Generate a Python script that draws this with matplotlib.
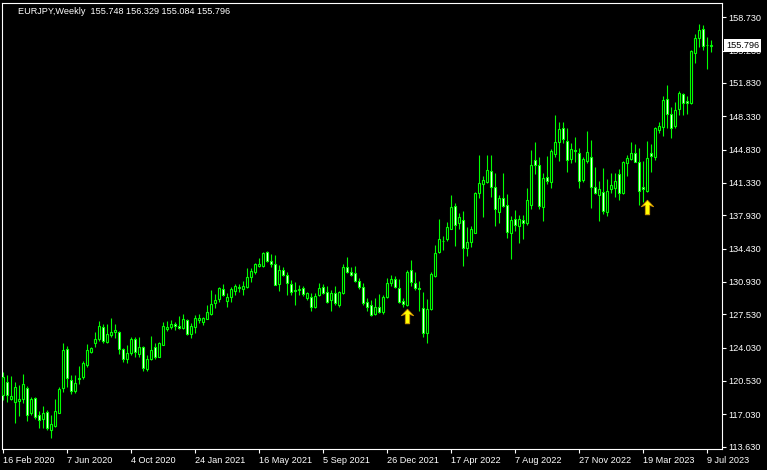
import matplotlib.pyplot as plt
from matplotlib.path import Path
import numpy as np

plt.rcParams['font.family'] = ['Liberation Sans', 'DejaVu Sans']

# EURJPY weekly candles (oldest first)
opens = [
    119.05, 120.42, 118.63, 118.28, 118.42, 118.60, 119.79, 117.20, 118.74, 116.95,
    116.50, 117.27, 115.35, 115.76, 117.20, 119.75, 123.85, 120.63, 119.51, 120.74,
    120.91, 122.17, 123.53, 124.55, 124.90, 126.16, 124.65, 125.35, 125.70, 125.63,
    123.85, 122.80, 123.43, 124.90, 123.32, 124.06, 121.76, 122.88, 124.07, 123.09,
    124.35, 126.03, 126.24, 126.52, 126.31, 126.14, 126.94, 125.43, 126.24, 126.94,
    126.77, 127.08, 127.57, 128.76, 129.11, 130.16, 128.97, 129.39, 130.02, 130.41,
    130.19, 130.44, 131.49, 132.01, 132.61, 132.61, 134.04, 133.17, 132.78, 130.68,
    132.19, 131.67, 130.72, 130.09, 130.12, 130.26, 129.21, 129.39, 128.27, 129.56,
    130.37, 129.84, 129.04, 129.74, 128.51, 129.74, 132.47, 132.01, 131.84, 131.03,
    130.37, 128.79, 128.51, 127.53, 128.27, 127.81, 129.39, 130.86, 131.24, 130.26,
    128.93, 128.51, 132.19, 130.86, 130.26, 128.16, 125.54, 128.06, 131.59, 134.11,
    135.27, 135.48, 136.53, 138.87, 137.09, 137.44, 134.46, 135.16, 136.11, 140.24,
    141.22, 141.46, 142.55, 140.87, 138.31, 139.75, 138.98, 136.11, 137.51, 136.84,
    137.44, 137.16, 139.01, 143.74, 143.21, 138.84, 141.92, 141.46, 144.40, 145.59,
    147.06, 145.70, 143.84, 144.79, 144.44, 141.64, 143.67, 144.02, 140.94, 140.07,
    140.35, 138.32, 140.70, 140.84, 142.24, 140.31, 143.46, 143.88, 144.44, 143.57,
    140.87, 140.52, 144.44, 144.02, 146.90, 147.25, 150.12, 148.61, 147.35, 149.07,
    150.68, 149.94, 149.70, 154.95, 156.52, 157.47, 155.79, 155.748]
highs = [
    121.50, 121.16, 121.05, 120.46, 120.11, 121.26, 120.00, 118.81, 118.88, 117.37,
    117.90, 117.48, 116.95, 118.63, 119.93, 124.55, 124.20, 121.16, 121.16, 122.10,
    122.62, 124.37, 124.13, 125.63, 126.82, 126.51, 126.51, 127.10, 126.51, 125.77,
    124.02, 124.30, 125.11, 125.18, 125.11, 124.20, 123.26, 125.26, 124.56, 124.67,
    126.73, 126.80, 126.94, 126.73, 127.36, 127.57, 127.08, 126.59, 127.46, 127.57,
    127.29, 128.48, 130.09, 129.67, 130.44, 130.68, 129.81, 130.44, 130.72, 130.72,
    131.00, 132.36, 132.43, 132.89, 133.41, 134.08, 134.18, 133.87, 133.76, 132.71,
    132.54, 131.95, 131.14, 130.96, 130.61, 130.51, 129.91, 129.81, 129.81, 130.86,
    130.68, 130.51, 130.09, 130.51, 130.02, 132.82, 133.52, 132.54, 132.61, 131.31,
    130.79, 129.28, 129.04, 129.21, 129.67, 129.56, 131.38, 131.66, 131.56, 131.21,
    129.21, 132.19, 133.24, 132.01, 131.03, 129.91, 129.11, 132.01, 134.81, 137.54,
    135.75, 137.23, 140.06, 139.19, 138.14, 138.38, 136.67, 136.81, 140.41, 144.26,
    142.06, 144.26, 144.26, 142.34, 140.06, 142.34, 140.17, 137.86, 138.49, 137.96,
    137.93, 140.76, 144.79, 145.63, 144.09, 142.34, 144.16, 144.86, 148.46, 147.69,
    147.69, 147.06, 145.56, 146.19, 144.97, 144.09, 146.79, 145.84, 143.04, 141.54,
    142.87, 141.75, 142.34, 142.34, 142.76, 143.67, 144.27, 145.63, 145.39, 145.04,
    143.64, 145.74, 145.42, 147.25, 147.77, 150.47, 151.62, 149.28, 149.84, 150.96,
    150.82, 150.47, 155.30, 156.98, 158.03, 157.92, 156.70, 156.329]
lows = [
    118.53, 118.36, 118.53, 116.15, 116.85, 118.18, 116.36, 116.95, 116.57, 115.56,
    115.56, 115.38, 114.50, 115.66, 117.13, 119.40, 119.86, 119.12, 119.30, 120.21,
    120.77, 122.03, 123.43, 124.06, 124.76, 124.55, 124.48, 125.18, 125.00, 123.36,
    122.55, 122.38, 123.25, 123.08, 123.01, 121.57, 121.62, 122.74, 122.84, 123.02,
    124.28, 125.82, 125.96, 125.89, 125.96, 126.03, 125.36, 125.08, 125.61, 126.66,
    126.45, 127.01, 127.50, 128.16, 128.86, 129.46, 128.34, 128.86, 129.56, 129.91,
    129.56, 130.26, 130.93, 131.73, 132.47, 132.54, 133.06, 132.54, 130.58, 130.02,
    131.56, 129.56, 129.56, 128.51, 129.56, 129.46, 129.04, 127.92, 128.23, 129.49,
    129.63, 128.69, 127.92, 128.51, 128.34, 129.67, 131.91, 131.56, 130.89, 130.19,
    128.51, 127.92, 127.36, 127.46, 127.64, 127.57, 129.28, 130.54, 130.26, 128.69,
    128.27, 128.41, 130.51, 130.09, 127.92, 125.12, 124.49, 127.99, 131.49, 134.00,
    134.28, 135.27, 136.46, 134.70, 136.53, 132.64, 133.69, 134.63, 136.04, 139.78,
    137.79, 141.29, 139.82, 136.84, 137.09, 138.77, 135.58, 133.34, 136.32, 134.98,
    135.44, 136.91, 138.63, 142.27, 138.59, 137.37, 141.22, 140.80, 144.09, 143.67,
    145.49, 142.52, 143.39, 143.56, 140.77, 141.43, 143.46, 138.74, 140.17, 137.37,
    138.04, 137.90, 140.31, 139.89, 139.54, 140.17, 142.06, 143.74, 143.50, 139.02,
    139.37, 140.42, 142.52, 143.74, 146.55, 146.27, 147.07, 146.09, 147.07, 148.47,
    148.47, 148.58, 149.63, 153.97, 155.65, 155.30, 153.30, 155.084]
closes = [
    120.91, 119.09, 118.91, 119.86, 118.60, 120.17, 116.99, 118.60, 116.78, 116.43,
    117.20, 115.62, 116.01, 117.34, 119.68, 123.78, 120.87, 119.44, 120.28, 120.84,
    122.38, 123.78, 123.95, 124.90, 126.30, 124.76, 125.42, 125.70, 125.84, 123.85,
    122.80, 123.43, 124.90, 123.53, 124.13, 121.92, 122.81, 123.79, 123.09, 124.49,
    126.31, 126.24, 126.52, 126.31, 126.07, 127.01, 125.43, 126.31, 127.15, 127.11,
    127.15, 127.78, 128.62, 129.04, 130.26, 129.56, 129.32, 130.16, 130.51, 130.34,
    130.51, 131.42, 132.08, 132.82, 132.82, 133.94, 133.17, 132.78, 130.65, 132.19,
    131.70, 130.79, 129.91, 129.95, 130.16, 129.63, 129.74, 128.34, 129.49, 130.26,
    129.81, 128.79, 129.81, 128.69, 129.88, 132.47, 132.01, 131.66, 131.03, 130.37,
    128.69, 128.34, 127.46, 128.27, 127.74, 129.32, 130.79, 131.21, 130.37, 128.86,
    128.58, 132.01, 130.96, 130.26, 130.23, 125.54, 128.06, 131.77, 134.00, 135.40,
    135.20, 136.67, 138.77, 136.95, 137.72, 134.53, 135.09, 136.46, 140.24, 141.29,
    141.64, 142.69, 140.94, 138.63, 139.75, 138.94, 136.21, 137.44, 136.88, 137.51,
    137.16, 139.54, 143.21, 143.18, 138.94, 141.81, 141.57, 144.65, 145.59, 146.96,
    145.94, 143.70, 144.86, 144.65, 141.57, 143.81, 144.62, 140.94, 140.31, 140.66,
    138.42, 140.52, 141.08, 141.57, 140.24, 143.50, 143.92, 144.44, 143.57, 140.52,
    140.66, 143.92, 144.16, 147.07, 147.35, 150.05, 148.54, 147.14, 149.00, 150.75,
    149.77, 149.70, 155.19, 156.52, 157.40, 155.72, 155.83, 155.796]

date_labels = ["16 Feb 2020", "7 Jun 2020", "4 Oct 2020", "24 Jan 2021", "16 May 2021",
               "5 Sep 2021", "26 Dec 2021", "17 Apr 2022", "7 Aug 2022", "27 Nov 2022",
               "19 Mar 2023", "9 Jul 2023"]
date_bars = [0, 16, 32, 48, 64, 80, 96, 112, 128, 144, 160, 176]
price_ticks = [158.73, 155.23, 151.83, 148.33, 144.83, 141.33, 137.93, 134.43,
               130.93, 127.53, 124.03, 120.53, 117.03, 113.63]

# signal arrows (bar index, price)
arrow_bars = [101, 161]
arrow_prices = [127.35, 138.80]

last_price = closes[-1]

opens = np.array(opens)
highs = np.array(highs)
lows = np.array(lows)
closes = np.array(closes)
x = np.arange(len(opens))

GREEN = '#00FF00'

fig = plt.figure(figsize=(7.67, 4.70), dpi=100, facecolor='black')
ax = fig.add_axes([2 / 767, 20.7 / 470, 719.5 / 767, 446.6 / 470])
ax.set_facecolor('black')

bull = closes >= opens
body_bottom = np.minimum(opens, closes)
body_h = np.abs(closes - opens)
faces = ['black' if b else 'white' for b in bull]

ax.vlines(x, lows, highs, colors=GREEN, linewidth=0.8, zorder=2)
ax.bar(x, body_h, bottom=body_bottom, width=0.55, color=faces,
       edgecolor=GREEN, linewidth=0.8, zorder=3)

arrow = Path([(0, 1), (0.85, 0.1), (0.3, 0.3), (0.3, -1), (-0.3, -1),
              (-0.3, 0.3), (-0.85, 0.1), (0, 1)],
             [Path.MOVETO] + [Path.LINETO] * 6 + [Path.CLOSEPOLY])
ax.plot(arrow_bars, arrow_prices, linestyle='none', marker=arrow, markersize=10.5,
        markerfacecolor='#FFFF00', markeredgecolor='#D09000', markeredgewidth=0.6,
        zorder=4)

ax.set_xlim(-0.25, 179.625)
ax.set_ylim(113.35, 160.26)

for s in ax.spines.values():
    s.set_color('white')
    s.set_linewidth(0.8)

ax.yaxis.tick_right()
ax.set_yticks(price_ticks)
ax.set_yticklabels(['%.3f' % p for p in price_ticks])
ax.tick_params(axis='y', colors='white', length=3, width=0.8, pad=2, labelsize=6.6)

ax.set_xticks(date_bars)
ax.set_xticklabels(date_labels, ha='left')
ax.tick_params(axis='x', colors='white', length=3, width=0.8, pad=1.5, labelsize=6.6)

# current price box on the scale
ax.text(1.0063, last_price, '%.3f' % last_price, transform=ax.get_yaxis_transform(),
        color='black', fontsize=6.6, va='center', ha='left', clip_on=False,
        bbox=dict(boxstyle='square,pad=0.2', fc='white', ec='none'), zorder=5)

fig.text(18 / 767, 1 - 11 / 470, 'EURJPY,Weekly  155.748 156.329 155.084 155.796',
         color='white', fontsize=6.6, va='center', ha='left')

fig.savefig('out.png', dpi=100, facecolor='black')
